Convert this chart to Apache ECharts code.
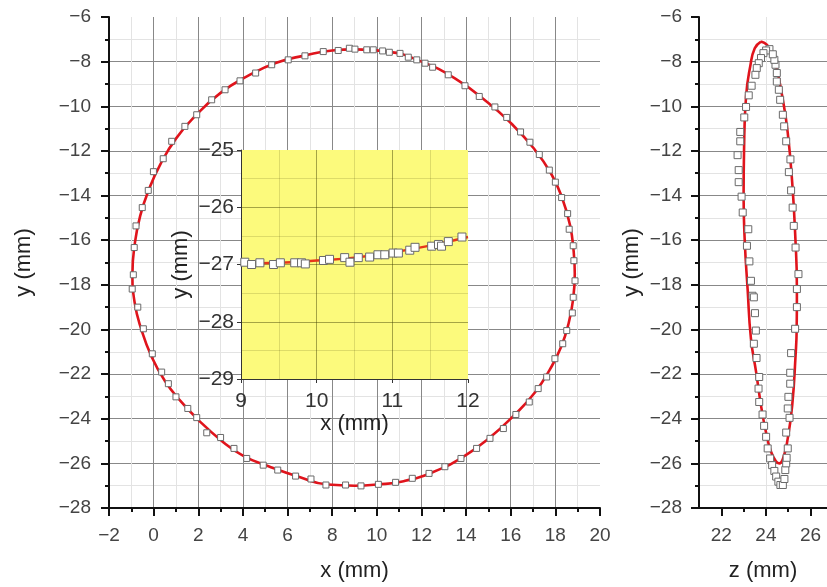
<!DOCTYPE html>
<html>
<head>
<meta charset="utf-8">
<script src="https://cdn.jsdelivr.net/npm/echarts@6/dist/echarts.min.js"></script>
<style>
html,body{margin:0;padding:0;background:#fff;}
#chart{width:827px;height:587px;}
</style>
</head>
<body>
<div id="chart"></div>
<script>
// ---- main panel (x-y) measured points ----
const mainX = [-0.96,-0.91,-0.87,-0.79,-0.51,-0.24,-0.01,0.43,0.81,1.40,1.93,2.60,3.20,3.87,4.57,5.29,6.03,6.78,7.60,8.27,8.77,9.02,9.55,9.84,10.26,10.56,11.04,11.41,11.79,12.16,12.50,13.20,13.95,14.59,15.29,15.82,16.44,16.86,17.28,17.73,18.00,18.28,18.55,18.62,18.80,18.83,18.88,18.80,18.76,18.51,18.33,17.98,17.61,17.23,16.83,16.23,15.67,15.07,14.47,13.77,13.05,12.34,11.59,10.84,10.07,9.29,8.60,7.72,7.05,6.36,5.56,4.91,4.17,3.60,3.00,2.38,1.93,1.53,1.00,0.66,0.36,-0.06,-0.46,-0.71];
const mainY = [-18.19,-17.55,-16.33,-15.36,-14.54,-13.77,-12.93,-12.35,-11.57,-10.90,-10.38,-9.71,-9.26,-8.86,-8.51,-8.14,-7.92,-7.74,-7.55,-7.50,-7.40,-7.44,-7.47,-7.47,-7.52,-7.58,-7.63,-7.80,-7.92,-8.07,-8.25,-8.59,-9.08,-9.56,-10.03,-10.50,-11.15,-11.61,-12.16,-12.86,-13.40,-14.09,-14.81,-15.51,-16.25,-16.92,-17.82,-18.56,-19.26,-20.05,-20.64,-21.31,-22.13,-22.65,-23.25,-23.81,-24.44,-24.88,-25.33,-25.78,-26.15,-26.45,-26.67,-26.85,-26.94,-27.01,-26.97,-26.97,-26.70,-26.57,-26.30,-26.08,-25.78,-25.33,-24.84,-24.63,-23.95,-23.54,-23.02,-22.43,-21.91,-21.09,-19.97,-19.00];
// ---- main panel fitted curve ----
const fitX = [9.0,10.5,12.0,13.5,15.0,16.0,17.0,17.8,18.3,18.65,18.82,18.87,18.8,18.6,18.25,17.75,17.1,16.2,15.0,13.8,12.5,11.2,10.0,9.0,7.8,6.5,5.2,4.0,3.0,2.0,1.2,0.5,-0.1,-0.55,-0.85,-0.95,-0.85,-0.6,-0.2,0.3,1.0,1.9,3.0,4.2,5.5,6.8,8.0,9.0];
const fitY = [-7.45,-7.55,-8.0,-8.75,-9.85,-10.75,-11.85,-13.0,-14.1,-15.3,-16.5,-17.5,-18.6,-19.7,-20.8,-21.8,-22.8,-23.8,-24.9,-25.75,-26.4,-26.8,-26.95,-27.0,-26.95,-26.6,-26.15,-25.65,-24.95,-24.05,-23.2,-22.3,-21.2,-20.0,-18.8,-17.5,-16.2,-14.9,-13.7,-12.6,-11.45,-10.4,-9.4,-8.65,-8.05,-7.72,-7.5,-7.45];

// ---- side panel (z-y) measured points ----
const sideZ = [24.16,24.01,23.89,23.78,23.68,23.59,23.53,23.36,23.23,23.11,23.03,22.85,22.85,22.73,22.78,22.78,22.91,22.96,23.21,23.15,23.26,23.33,23.40,23.46,23.51,23.55,23.46,23.58,23.70,23.67,23.70,23.85,23.92,24.01,24.08,24.19,24.28,24.38,24.46,24.56,24.65,24.76,24.83,24.87,24.91,24.93,24.98,24.91,25.06,24.98,25.01,25.09,25.09,25.13,25.31,25.39,25.39,25.46,25.33,25.25,25.20,25.13,25.03,25.10,24.91,24.82,24.76,24.64,24.58,24.49,24.49,24.43,24.38,24.31];
const sideY = [-7.44,-7.50,-7.62,-7.84,-8.07,-8.29,-8.59,-9.08,-9.51,-10.03,-10.50,-11.15,-11.57,-12.19,-12.86,-13.40,-14.05,-14.76,-15.51,-16.25,-16.95,-17.82,-18.49,-18.56,-19.27,-20.05,-20.64,-21.28,-22.13,-22.65,-23.25,-23.81,-24.32,-24.81,-25.33,-25.78,-26.08,-26.34,-26.59,-26.82,-26.97,-26.97,-26.70,-26.30,-26.00,-25.75,-25.33,-24.62,-23.96,-23.54,-23.02,-22.43,-21.94,-21.06,-19.97,-19.00,-18.19,-17.52,-16.33,-15.36,-14.54,-13.77,-12.95,-12.38,-11.57,-10.90,-10.38,-9.71,-9.26,-8.89,-8.51,-8.14,-7.92,-7.67];
// ---- side panel fitted curve ----
const sideFitZ = [23.78,24.05,24.23,24.46,24.76,24.98,25.18,25.31,25.39,25.38,25.33,25.18,24.98,24.78,24.6,24.45,24.23,24.0,23.78,23.56,23.33,23.18,23.05,23.0,23.02,23.11,23.3,23.5,23.78];
const sideFitY = [-7.10,-7.25,-7.6,-8.22,-9.71,-11.19,-13.42,-15.66,-18.19,-20.0,-21.17,-23.4,-24.88,-25.75,-26.0,-25.9,-25.48,-24.59,-23.4,-21.9,-20.42,-18.19,-16.0,-14.0,-12.0,-9.56,-8.2,-7.4,-7.10];

// ---- inset (zoom of bottom of x-y loop) ----
const insetX = [9.05,9.14,9.25,9.43,9.52,9.71,9.80,9.85,10.09,10.17,10.37,10.44,10.55,10.70,10.81,10.90,11.01,11.08,11.23,11.30,11.52,11.61,11.65,11.74,11.92];
const insetY = [-26.96,-27.00,-26.97,-27.00,-26.97,-26.97,-26.97,-26.99,-26.93,-26.91,-26.88,-26.96,-26.88,-26.87,-26.83,-26.83,-26.80,-26.80,-26.75,-26.70,-26.68,-26.65,-26.68,-26.60,-26.52];
const insetFitX = [9.0,9.5,10.0,10.5,11.0,11.5,12.0];
const insetFitY = [-26.98,-26.97,-26.93,-26.88,-26.79,-26.67,-26.52];

// tick label values
const sideZMajor = [22,24,26];
const sideZMinor = [23,25];

const zip = (a,b) => a.map((v,i)=>[v,b[i]]);
const minus = v => String(v).replace('-', '\u2212');
const FONT = "'Liberation Sans', Arial, sans-serif";
const RED = '#e0141c';
const MAJOR = '#888888';
const MINOR = '#e3e3e3';

const chart = echarts.init(document.getElementById('chart'), null, {renderer:'canvas'});

function mainAxisCommon(extra){
  return Object.assign({
    type:'value',
    axisLine:{show:true,onZero:false,lineStyle:{color:'#111',width:2}},
    axisTick:{show:true,inside:false,length:8,lineStyle:{color:'#111',width:2}},
    minorTick:{show:true,splitNumber:2,length:4,lineStyle:{color:'#111',width:2}},
    axisLabel:{color:'#444',fontSize:19,fontFamily:FONT,formatter:minus},
    splitLine:{show:true,showMaxLine:false,lineStyle:{color:MAJOR,width:1}},
    minorSplitLine:{show:true,lineStyle:{color:MINOR,width:1}},
    nameLocation:'middle',
    nameTextStyle:{color:'#222',fontSize:22,fontFamily:FONT}
  }, extra);
}

const option = {
  backgroundColor:'#fff',
  animation:false,
  grid:[
    {left:109, top:17, width:491, height:493},
    {left:699, top:17, width:128, height:493},
    {left:241, top:150, width:227, height:229, show:true, backgroundColor:'#fcfa7c', borderWidth:0, zlevel:1}
  ],
  xAxis:[
    mainAxisCommon({gridIndex:0, min:-2, max:20, interval:2, name:'x (mm)', nameGap:52,
      axisLabel:{color:'#444',fontSize:19,fontFamily:FONT,formatter:minus,margin:18}}),
    {
      type:'value', gridIndex:1, position:'bottom', min:21, max:26.74, interval:1,
      axisLine:{show:true,onZero:false,lineStyle:{color:'#111',width:2}},
      axisTick:{show:true,length:8,customValues:sideZMajor,lineStyle:{color:'#111',width:2}},
      axisLabel:{color:'#444',fontSize:19,fontFamily:FONT,margin:18,customValues:sideZMajor,formatter:minus},
      splitLine:{show:true,showMinLine:false,showMaxLine:false,lineStyle:{color:[MINOR,MAJOR],width:1}},
      name:'z (mm)', nameLocation:'middle', nameGap:52,
      nameTextStyle:{color:'#222',fontSize:22,fontFamily:FONT}
    },
    {
      type:'value', gridIndex:1, position:'bottom', min:21, max:26.74, interval:1,
      axisLine:{show:false,onZero:false},
      axisTick:{show:true,length:4,customValues:sideZMinor,lineStyle:{color:'#111',width:2}},
      axisLabel:{show:false},
      splitLine:{show:false}
    },
    {
      type:'value', gridIndex:2, min:9, max:12, interval:1, zlevel:1,
      axisLine:{show:true,onZero:false,lineStyle:{color:'#333',width:1}},
      axisTick:{show:true,length:4,lineStyle:{color:'#333'}},
      minorTick:{show:false,splitNumber:2},
      axisLabel:{color:'#333',fontSize:21,fontFamily:FONT,margin:12},
      splitLine:{show:true,showMinLine:false,showMaxLine:false,lineStyle:{color:'rgba(60,60,0,0.45)',width:1}},
      minorSplitLine:{show:true,lineStyle:{color:'rgba(60,60,0,0.16)',width:1}},
      name:'x (mm)', nameLocation:'middle', nameGap:33,
      nameTextStyle:{color:'#222',fontSize:22,fontFamily:FONT}
    }
  ],
  yAxis:[
    mainAxisCommon({gridIndex:0, min:-28, max:-6, interval:2, name:'y (mm)', nameGap:74,
      axisLabel:{color:'#444',fontSize:19,fontFamily:FONT,formatter:minus,margin:18}}),
    mainAxisCommon({gridIndex:1, min:-28, max:-6, interval:2, name:'y (mm)', nameGap:56,
      axisLabel:{color:'#444',fontSize:19,fontFamily:FONT,formatter:minus,margin:17}}),
    {
      type:'value', gridIndex:2, min:-29, max:-25, interval:1, zlevel:1,
      axisLine:{show:true,onZero:false,lineStyle:{color:'#333',width:1}},
      axisTick:{show:true,length:4,lineStyle:{color:'#333'}},
      minorTick:{show:false,splitNumber:2},
      axisLabel:{color:'#333',fontSize:21,fontFamily:FONT,margin:7,formatter:minus},
      splitLine:{show:true,showMinLine:false,showMaxLine:false,lineStyle:{color:'rgba(60,60,0,0.45)',width:1}},
      minorSplitLine:{show:true,lineStyle:{color:'rgba(60,60,0,0.16)',width:1}},
      name:'y (mm)', nameLocation:'middle', nameGap:49,
      nameTextStyle:{color:'#222',fontSize:22,fontFamily:FONT}
    }
  ],
  series:[
    {type:'line', xAxisIndex:0, yAxisIndex:0, data:zip(fitX,fitY), smooth:0.5, showSymbol:false,
      lineStyle:{color:RED,width:2.6}, z:3},
    {type:'scatter', xAxisIndex:0, yAxisIndex:0, data:zip(mainX,mainY), symbol:'rect', symbolSize:6,
      itemStyle:{color:'#fff',borderColor:'#6a6a6a',borderWidth:1,opacity:1}, z:4},
    {type:'line', xAxisIndex:1, yAxisIndex:1, data:zip(sideFitZ,sideFitY), smooth:0.5, showSymbol:false,
      lineStyle:{color:RED,width:2.6}, z:3},
    {type:'scatter', xAxisIndex:1, yAxisIndex:1, data:zip(sideZ,sideY), symbol:'rect', symbolSize:7,
      itemStyle:{color:'#fff',borderColor:'#6a6a6a',borderWidth:1,opacity:1}, z:4},
    {type:'line', xAxisIndex:3, yAxisIndex:2, data:zip(insetFitX,insetFitY), smooth:0.5, showSymbol:false,
      lineStyle:{color:'#e6361a',width:2.5}, zlevel:1, z:3},
    {type:'scatter', xAxisIndex:3, yAxisIndex:2, data:zip(insetX,insetY), symbol:'rect', symbolSize:8,
      itemStyle:{color:'#fff',borderColor:'#6a6a6a',borderWidth:1,opacity:1}, zlevel:1, z:4}
  ]
};
chart.setOption(option);
</script>
</body>
</html>
